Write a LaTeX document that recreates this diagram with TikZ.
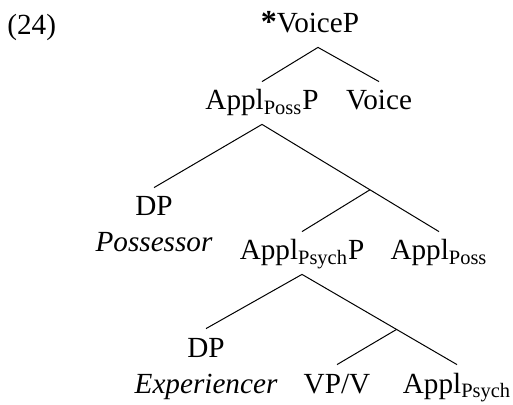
\documentclass[tikz,border=0pt]{standalone}
\usepackage{fontspec}
\setmainfont{Liberation Serif}
\usetikzlibrary{calc}
\newcommand{\catsub}[1]{\textsubscript{#1}}
\tikzset{
  catnode/.style={anchor=base,inner sep=0pt,text height=14pt,text depth=7pt,
    font=\fontsize{14.6}{18}\selectfont},
  glossnode/.style={anchor=base,inner sep=0pt,font=\fontsize{14.6}{18}\selectfont\itshape},
  treeline/.style={line width=0.5pt}
}

\begin{document}
\begin{tikzpicture}[x=0.5pt,y=-0.5pt]
  \useasboundingbox (0,0) rectangle (513,405);
  \node[anchor=base west,inner sep=0pt,font=\fontsize{14.6}{18}\selectfont] (exnum) at (7,35) {(24)};
  \node[catnode] (voicep) at (318,33) {\llap{\bfseries\fontsize{16}{18}\selectfont*}VoiceP};
  \node[catnode] (posp) at (262,110) {Appl\catsub{Poss}P};
  \node[catnode] (voice) at (379,110) {Voice};
  \node[catnode] (dpposs) at (154,216) {DP};
  \node[glossnode] (possessor) at (154,252) {Possessor};
  \node[catnode] (psychp) at (302,260) {Appl\catsub{Psych}P};
  \node[catnode] (poshead) at (439,260) {Appl\catsub{Poss}};
  \node[catnode] (dpexp) at (206,357) {DP};
  \node[glossnode] (experiencer) at (206,393) {Experiencer};
  \node[catnode] (vpv) at (337,393) {VP/V};
  \node[catnode] (psychhead) at (457,393) {Appl\catsub{Psych}};
  \coordinate (posbar) at ($(posp.south)!0.61!(poshead.north)$);
  \coordinate (psychbar) at ($(psychp.south)!0.61!(psychhead.north)$);
  \draw[treeline] (voicep.south) -- (posp.north);
  \draw[treeline] (voicep.south) -- (voice.north);
  \draw[treeline] (posp.south) -- (dpposs.north);
  \draw[treeline] (posp.south) -- (poshead.north);
  \draw[treeline] (posbar) -- (psychp.north);
  \draw[treeline] (psychp.south) -- (dpexp.north);
  \draw[treeline] (psychp.south) -- (psychhead.north);
  \draw[treeline] (psychbar) -- (vpv.north);
\end{tikzpicture}
\end{document}
